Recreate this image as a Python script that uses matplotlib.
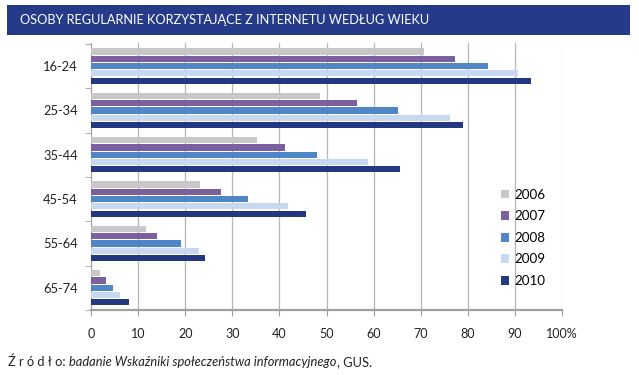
import matplotlib
matplotlib.use("Agg")
import matplotlib.pyplot as plt
from matplotlib.patches import Patch, Rectangle
import numpy as np

categories = ["16-24", "25-34", "35-44", "45-54", "55-64", "65-74"]
years = ["2006", "2007", "2008", "2009", "2010"]
v2006 = [70.7, 48.7, 35.3, 23.2, 11.6, 1.9]
v2007 = [77.2, 56.4, 41.1, 27.7, 14.0, 3.1]
v2008 = [84.2, 65.1, 47.9, 33.4, 19.1, 4.7]
v2009 = [90.7, 76.2, 58.9, 41.8, 23.0, 6.2]
v2010 = [93.5, 78.9, 65.6, 45.6, 24.3, 8.1]
series = [v2006, v2007, v2008, v2009, v2010]
colors = ["#c8c8c8", "#7b5f9f", "#4e86c8", "#c7d9f0", "#243882"]
xticks = [0, 10, 20, 30, 40, 50, 60, 70, 80, 90, 100]
xticklabels = ["0", "10", "20", "30", "40", "50", "60", "70", "80", "90", "100%"]

plt.rcParams['font.family'] = ['Lato', 'DejaVu Sans']

W, H = 639, 375
fig = plt.figure(figsize=(W / 100, H / 100), dpi=100)
fig.patch.set_facecolor("white")

# title bar
fig.patches.append(Rectangle((7 / W, 1 - 35 / H), (630 - 7) / W, 30 / H,
                             transform=fig.transFigure, facecolor="#263a8a",
                             edgecolor="none", zorder=0))
fig.text(20 / W, 1 - 20.5 / H, "OSOBY REGULARNIE KORZYSTAJĄCE Z INTERNETU WEDŁUG WIEKU",
         color="white", fontsize=9.2, va="center", ha="left")

ax = fig.add_axes([91 / W, 1 - 310 / H, (562 - 91) / W, (310 - 43) / H])
y = np.arange(len(categories))
pitch = 0.164
h = 0.14
for i, (vals, c) in enumerate(zip(series, colors)):
    ax.barh(y + (i - 2) * pitch, vals, height=h, color=c, label=years[i], zorder=3)

ax.set_xlim(0, 100)
ax.set_ylim(5.5, -0.52)
ax.set_xticks(xticks)
ax.set_xticklabels(xticklabels, fontsize=9, color="#222222")
ax.set_yticks(y)
ax.set_yticklabels(categories, fontsize=9.3, color="#222222")
ax.set_yticks(np.arange(len(categories) + 1) - 0.5, minor=True)
ax.tick_params(axis="y", which="major", length=0, pad=9.5)
ax.tick_params(axis="y", which="minor", length=4, color="#a0a0a0")
ax.tick_params(axis="x", length=4, color="#a0a0a0", pad=9)
ax.grid(axis="x", color="#b5b5b5", linewidth=0.9, zorder=0)
for s in ["top", "right"]:
    ax.spines[s].set_visible(False)
ax.spines["left"].set_color("#a0a0a0")
ax.spines["left"].set_linewidth(0.8)
ax.spines["bottom"].set_color("#a0a0a0")
ax.spines["bottom"].set_linewidth(1.6)
ax.spines["bottom"].set_zorder(4)

handles = [Patch(facecolor=c, edgecolor="none") for c in colors]
fig.legend(handles, years, loc="upper left", bbox_to_anchor=(494 / W, 1 - 182 / H),
           frameon=False, fontsize=9.6, handlelength=0.65, handleheight=0.65,
           handletextpad=0.35, labelspacing=0.72, borderpad=0)

# source line
fig.canvas.draw()
r = fig.canvas.get_renderer()
x0 = 8
ypos = 1 - 362 / H
parts = [("Ź r ó d ł o: ", "normal"),
         ("badanie Wskaźniki społeczeństwa informacyjnego", "italic"),
         (", GUS.", "normal")]
for txt, st in parts:
    t = fig.text(x0 / W, ypos, txt, fontsize=9.3, style=st, color="#222222",
                 va="center", ha="left")
    bb = t.get_window_extent(renderer=r)
    x0 = bb.x1 + (1 if st == "italic" else 0)

fig.savefig("out.png", dpi=100)
